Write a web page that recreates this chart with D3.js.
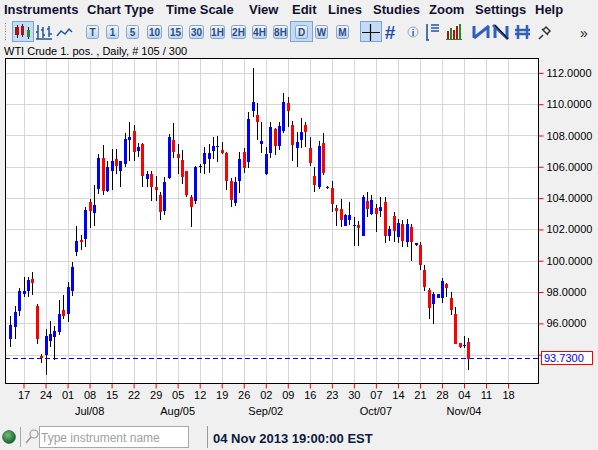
<!DOCTYPE html>
<html><head><meta charset="utf-8">
<script src="https://cdn.jsdelivr.net/npm/d3@7"></script>
<style>
html,body{margin:0;padding:0;background:#f0f0f0;overflow:hidden}
svg{display:block;font-family:"Liberation Sans",Arial,sans-serif}
</style></head><body>
<svg id="c" width="598" height="450"></svg>
<script>
// ---------- DATA ----------
const opens = [94.99,95.74,96.76,97.90,98.08,98.82,97.08,93.93,93.95,94.90,
95.10,95.42,96.86,96.57,98.08,100.53,101.34,101.38,103.72,103.04,
104.59,106.55,104.44,105.76,106.51,105.76,106.19,107.74,108.26,107.04,
107.47,105.19,105.51,104.70,104.23,103.17,105.30,107.74,106.79,106.45,
105.76,104.10,103.80,105.98,106.19,106.47,107.04,107.25,107.08,106.87,
105.12,103.70,105.12,106.93,106.33,109.59,109.32,107.44,105.55,106.91,
108.42,107.34,108.29,110.10,108.68,107.19,107.72,108.68,107.19,105.44,
104.74,107.51,104.68,104.66,103.38,103.31,102.25,102.63,102.21,102.31,
101.61,103.80,103.00,103.38,103.17,103.74,101.55,102.87,101.53,102.34,
101.21,102.17,101.00,101.00,99.40,98.12,97.21,97.64,97.64,98.49,
97.59,96.59,94.72,94.62,94.82];
const highs = [96.48,97.08,98.29,98.99,98.99,99.25,97.25,94.05,95.63,96.18,
95.84,97.46,97.82,98.61,99.95,102.23,101.66,103.42,103.95,104.81,
106.83,107.42,106.36,107.15,107.15,106.40,108.15,108.89,108.64,107.53,
107.53,105.76,105.76,105.44,104.38,105.38,108.11,108.79,107.47,107.08,
105.76,104.17,106.08,106.19,107.25,107.47,107.89,107.94,107.57,106.94,
105.29,105.33,106.97,107.23,109.47,112.30,110.06,108.83,107.25,108.89,
108.46,108.89,110.70,110.45,108.95,108.25,109.10,108.89,107.93,105.98,
107.68,108.15,104.80,105.12,103.59,103.95,103.00,103.74,102.78,102.57,
104.23,104.38,104.17,103.63,104.06,104.10,102.19,103.13,102.66,102.60,
102.66,102.32,101.15,101.21,99.72,98.23,98.02,97.87,98.87,98.55,
98.02,97.02,94.72,95.20,95.08];
const lows = [94.48,95.03,96.44,97.67,97.67,97.78,94.65,93.46,92.73,94.52,
93.67,95.27,96.27,96.06,97.76,100.32,100.70,100.86,102.10,102.25,
104.27,104.23,104.38,104.55,105.55,104.74,105.98,106.40,106.40,106.60,
104.74,104.70,103.80,103.80,102.61,102.89,105.23,106.57,105.55,104.91,
104.06,102.14,103.63,105.59,105.55,105.61,106.51,106.30,106.83,104.53,
103.42,103.50,104.31,105.59,105.91,109.21,107.72,106.91,105.48,106.59,
106.76,107.08,108.15,108.57,106.40,105.97,107.19,107.25,106.06,104.38,
104.59,105.49,104.60,103.10,102.25,102.14,102.19,102.31,100.97,100.97,
101.61,102.78,102.89,101.82,102.78,101.12,101.29,101.17,101.11,100.89,
100.85,100.00,100.94,99.40,98.06,96.31,95.93,97.60,97.27,97.70,
96.53,94.65,94.44,94.45,93.05];
const closes = [95.91,96.74,98.08,98.05,98.74,98.55,95.03,93.80,95.20,95.33,
95.52,96.61,96.48,98.31,99.59,101.27,101.17,103.21,103.17,103.53,
106.55,104.44,105.98,106.34,106.02,106.34,107.79,107.89,106.94,107.25,
105.40,105.51,104.70,104.55,103.10,105.02,107.89,106.94,106.55,105.34,
104.23,103.42,105.98,106.08,106.87,106.87,107.30,107.32,106.87,105.12,
103.89,105.06,106.48,105.95,109.04,110.13,108.83,107.65,106.82,108.53,
107.34,108.63,110.17,109.57,107.40,107.61,108.25,108.25,106.27,104.81,
107.30,105.59,104.72,103.63,103.17,102.63,102.89,102.89,102.31,102.08,
104.10,103.31,103.85,103.00,103.46,101.61,102.04,101.91,102.38,101.28,
102.34,101.21,101.15,99.72,98.34,96.95,97.87,97.87,98.70,98.23,
96.85,94.65,94.50,94.64,93.73];
const tickLabels = ["17","24","01","08","15","22","29","05","12","19","26","02","09","16","23","30","07","14","21","28","04","11","18"];
const monthLabels = ["Jul/08","Aug/05","Sep/02","Oct/07","Nov/04"];
const monthTickIndex = [3,7,11,16,20];
const priceTicks = [94,96,98,100,102,104,106,108,110,112];
const lastPrice = 93.73;
const menuItems = ["Instruments","Chart Type","Time Scale","View","Edit","Lines","Studies","Zoom","Settings","Help"];
const periodButtons = ["T","1","5","10","15","30","1H","2H","4H","8H","D","W","M"];
const titleText = "WTI Crude 1. pos. , Daily, # 105 / 300";
const statusText = "04 Nov 2013 19:00:00 EST";
const placeholder = "Type instrument name";

// ---------- LAYOUT ----------
const svg = d3.select("#c");
const P = {l:5, r:538, t:58, b:383};
const firstTick = 3, ticksPerWeek = 5;
const x = d3.scaleLinear().domain([-1.2, 119.8]).range([P.l, P.r]);
const y = d3.scaleLinear().domain([92.19, 112.95]).range([P.b, P.t]);

// menu
const menuX = [4,87,166,249,292,328,373,429,475,535];
svg.append("g").selectAll("text").data(menuItems).join("text")
  .attr("x",(d,i)=>menuX[i]).attr("y",14)
  .attr("font-size",13).attr("font-weight","bold").attr("fill","#101030").text(d=>d);

// toolbar
const tb = svg.append("g");
for(let k=0;k<7;k++) tb.append("rect").attr("x",5).attr("y",23+k*2.7).attr("width",1).attr("height",1).attr("fill","#888");
function selBox(x0,x1){tb.append("rect").attr("x",x0+0.5).attr("y",21.5).attr("width",x1-x0).attr("height",20).attr("fill","#c4dbf5").attr("stroke","#79a4d9");}
selBox(12,33);
[[17,25,38],[22,24,37],[28,27,39]].forEach(a=>tb.append("line").attr("x1",a[0]+0.5).attr("x2",a[0]+0.5).attr("y1",a[1]).attr("y2",a[2]).attr("stroke","#222"));
tb.append("rect").attr("x",15).attr("y",27).attr("width",4).attr("height",8).attr("fill","#b01010");
tb.append("rect").attr("x",21).attr("y",26).attr("width",3).attr("height",9).attr("fill","#b01010");
tb.append("rect").attr("x",27).attr("y",30).attr("width",3).attr("height",7).attr("fill","#1f8a2a");
tb.append("path").attr("d","M38,25V39M38,32H36M43,27V38M43,30H41M43,35H45M49,26V37M49,29H47M49,34H52M36,39H52").attr("stroke","#2255a8").attr("stroke-width",1.5).attr("fill","none");
tb.append("path").attr("d","M57,36L61,31L65,34L69,29L72,32").attr("stroke","#2255a8").attr("stroke-width",1.5).attr("fill","none");
const btnX = [92,112,132,154,175,196,217,238,259,280,301,321,342];
selBox(290,312);
const bg = tb.append("defs").append("linearGradient").attr("id","bg").attr("x1",0).attr("x2",0).attr("y1",0).attr("y2",1);
bg.append("stop").attr("offset",0).attr("stop-color","#f2f7fd");
bg.append("stop").attr("offset",1).attr("stop-color","#bcd3ef");
periodButtons.forEach((d,i)=>{
  const w = d.length>1?14:12;
  tb.append("rect").attr("x",btnX[i]-w/2+0.5).attr("y",25.5).attr("width",w).attr("height",13).attr("rx",2)
    .attr("fill","url(#bg)").attr("stroke","#86a6d0");
  tb.append("text").attr("x",btnX[i]+0.5).attr("y",36).attr("text-anchor","middle")
    .attr("font-size",10).attr("font-weight","bold").attr("fill","#2a4c86").text(d);
});
selBox(360,381);
tb.append("path").attr("d","M362,32.5H380M370.5,24V41").attr("stroke","#111").attr("stroke-width",1.2);
tb.append("text").attr("x",390).attr("y",39).attr("text-anchor","middle").attr("font-size",19).attr("font-weight","bold").attr("fill","#1e4fb0").text("#");
tb.append("circle").attr("cx",413).attr("cy",32).attr("r",5).attr("fill","#eef0fb").attr("stroke","#9aa");
tb.append("text").attr("x",413).attr("y",35.5).attr("text-anchor","middle").attr("font-size",9).attr("font-weight","bold").attr("fill","#2244cc").text("i");
tb.append("path").attr("d","M427,24V40M426,40H429M431,25H439M431,28H439M431,31H439").attr("stroke","#2255a8").attr("stroke-width",1.6).attr("fill","none");
[[447,8,"#b01010"],[450,11,"#1f8a2a"],[453,9,"#b01010"],[456,13,"#b01010"],[459,15,"#1f8a2a"]].forEach(a=>
  tb.append("rect").attr("x",a[0]).attr("y",39-a[1]).attr("width",2).attr("height",a[1]).attr("fill",a[2]));
tb.append("line").attr("x1",446).attr("x2",462).attr("y1",39.5).attr("y2",39.5).attr("stroke","#1f8a2a");
tb.append("path").attr("d","M474,26V38M488,26V38M474,38L489,26").attr("stroke","#3060b8").attr("stroke-width",3).attr("fill","none");
tb.append("path").attr("d","M495,26V38M507,26V38M493,25L508,39").attr("stroke","#3060b8").attr("stroke-width",3).attr("fill","none");
tb.append("path").attr("d","M495,25L508,39").attr("stroke","#111").attr("stroke-width",1.2);
tb.append("path").attr("d","M518,25V39M527,25V39M515,30H530M515,34H530").attr("stroke","#3060b8").attr("stroke-width",2.5).attr("fill","none");
tb.append("path").attr("d","M539,39L543,35M542,29L548,35M543,30L546,27L550,31L547,34").attr("stroke","#333").attr("stroke-width",1.5).attr("fill","none");
tb.append("text").attr("x",584).attr("y",38).attr("text-anchor","middle").attr("font-size",14).attr("fill","#222").text("»");

// title
svg.append("text").attr("x",4).attr("y",55).attr("font-size",11).attr("fill","#000").text(titleText);

// plot background
svg.append("rect").attr("x",P.l).attr("y",P.t).attr("width",P.r-P.l).attr("height",P.b-P.t).attr("fill","#fff");

// grid
const tickIdx = tickLabels.map((d,i)=>firstTick+i*ticksPerWeek);
const grid = svg.append("g").attr("shape-rendering","crispEdges");
grid.selectAll(".v").data(tickIdx).join("line")
  .attr("x1",d=>Math.round(x(d))+0.5).attr("x2",d=>Math.round(x(d))+0.5)
  .attr("y1",P.t).attr("y2",P.b).attr("stroke","#d6d6d6");
grid.selectAll(".h").data(priceTicks).join("line")
  .attr("x1",P.l).attr("x2",P.r)
  .attr("y1",d=>Math.round(y(d))+0.5).attr("y2",d=>Math.round(y(d))+0.5).attr("stroke","#d6d6d6");

// last price dashed line
svg.append("line").attr("x1",P.l).attr("x2",P.r)
  .attr("y1",Math.floor(y(lastPrice))+0.5).attr("y2",Math.floor(y(lastPrice))+0.5)
  .attr("stroke","#0000ff").attr("stroke-width",1).attr("stroke-dasharray","5,3")
  .attr("shape-rendering","crispEdges");

// candles
const cg = svg.append("g").attr("shape-rendering","crispEdges");
const idx = d3.range(opens.length);
cg.selectAll(".w").data(idx).join("line")
  .attr("x1",i=>Math.round(x(i))+0.5).attr("x2",i=>Math.round(x(i))+0.5)
  .attr("y1",i=>y(highs[i])).attr("y2",i=>y(lows[i])).attr("stroke","#000");
cg.selectAll(".b").data(idx).join("rect")
  .attr("x",i=>Math.round(x(i))-1).attr("width",3)
  .attr("y",i=>y(Math.max(opens[i],closes[i])))
  .attr("height",i=>Math.max(1,Math.abs(y(opens[i])-y(closes[i]))))
  .attr("fill",i=>closes[i]>=opens[i]?"#0000ff":"#ff0000");

// border
svg.append("rect").attr("x",P.l+0.5).attr("y",P.t+0.5).attr("width",P.r-P.l).attr("height",P.b-P.t)
  .attr("fill","none").attr("stroke","#000").attr("shape-rendering","crispEdges");

// right axis (the 94 label is hidden behind the last-price box, as in the original)
const ya = svg.append("g").attr("transform",`translate(${P.r+0.5},0)`)
  .call(d3.axisRight(y).tickValues(priceTicks).tickFormat(d=>d===94?"":d3.format(".4f")(d)).tickSize(5).tickPadding(3));
ya.select(".domain").remove();
ya.selectAll("line").attr("stroke","#ff0000");
ya.selectAll("text").attr("font-size",11).attr("fill","#000").attr("font-family","Liberation Sans, Arial, sans-serif");

// bottom axis
const xa = svg.append("g").attr("transform",`translate(0,${P.b+0.5})`)
  .call(d3.axisBottom(x).tickValues(tickIdx).tickFormat((d,i)=>tickLabels[i]).tickSize(5).tickPadding(3));
xa.select(".domain").remove();
xa.selectAll("line").attr("stroke","#ff0000");
xa.selectAll("text").attr("font-size",11).attr("fill","#000").attr("font-family","Liberation Sans, Arial, sans-serif");
svg.append("g").selectAll("text").data(monthLabels).join("text")
  .attr("x",(d,i)=>x(tickIdx[monthTickIndex[i]])).attr("y",415).attr("text-anchor","middle")
  .attr("font-size",11).attr("fill","#000").text(d=>d);

// last price box
svg.append("rect").attr("x",541.5).attr("y",351.5).attr("width",51).attr("height",13).attr("fill","#fff").attr("stroke","#ff0000");
svg.append("text").attr("x",544).attr("y",362).attr("font-size",11).attr("fill","#0000ff").text(d3.format(".4f")(lastPrice));

// status bar
const rg = svg.append("defs").append("radialGradient").attr("id","gr").attr("cx","40%").attr("cy","35%").attr("r","65%");
rg.append("stop").attr("offset",0).attr("stop-color","#6fc07a");
rg.append("stop").attr("offset",1).attr("stop-color","#17602a");
svg.append("circle").attr("cx",9).attr("cy",437).attr("r",6.5).attr("fill","url(#gr)").attr("stroke","#2f5f3a").attr("stroke-width",0.6);
svg.append("line").attr("x1",20.5).attr("x2",20.5).attr("y1",427).attr("y2",447).attr("stroke","#a8a8a8");
svg.append("circle").attr("cx",34).attr("cy",434).attr("r",4).attr("fill","none").attr("stroke","#999").attr("stroke-width",1.2);
svg.append("line").attr("x1",31).attr("y1",437).attr("x2",26).attr("y2",443).attr("stroke","#999").attr("stroke-width",1.6);
svg.append("rect").attr("x",39.5).attr("y",426.5).attr("width",149).attr("height",21).attr("fill","#fff").attr("stroke","#a9a9a9");
svg.append("text").attr("x",41).attr("y",442).attr("font-size",12).attr("fill","#a0a0a0").text(placeholder);
svg.append("line").attr("x1",207.5).attr("x2",207.5).attr("y1",426).attr("y2",448).attr("stroke","#9a9a9a");
svg.append("text").attr("x",213).attr("y",443).attr("font-size",13).attr("font-weight","bold").attr("fill","#0c1a40").text(statusText);
</script></body></html>
